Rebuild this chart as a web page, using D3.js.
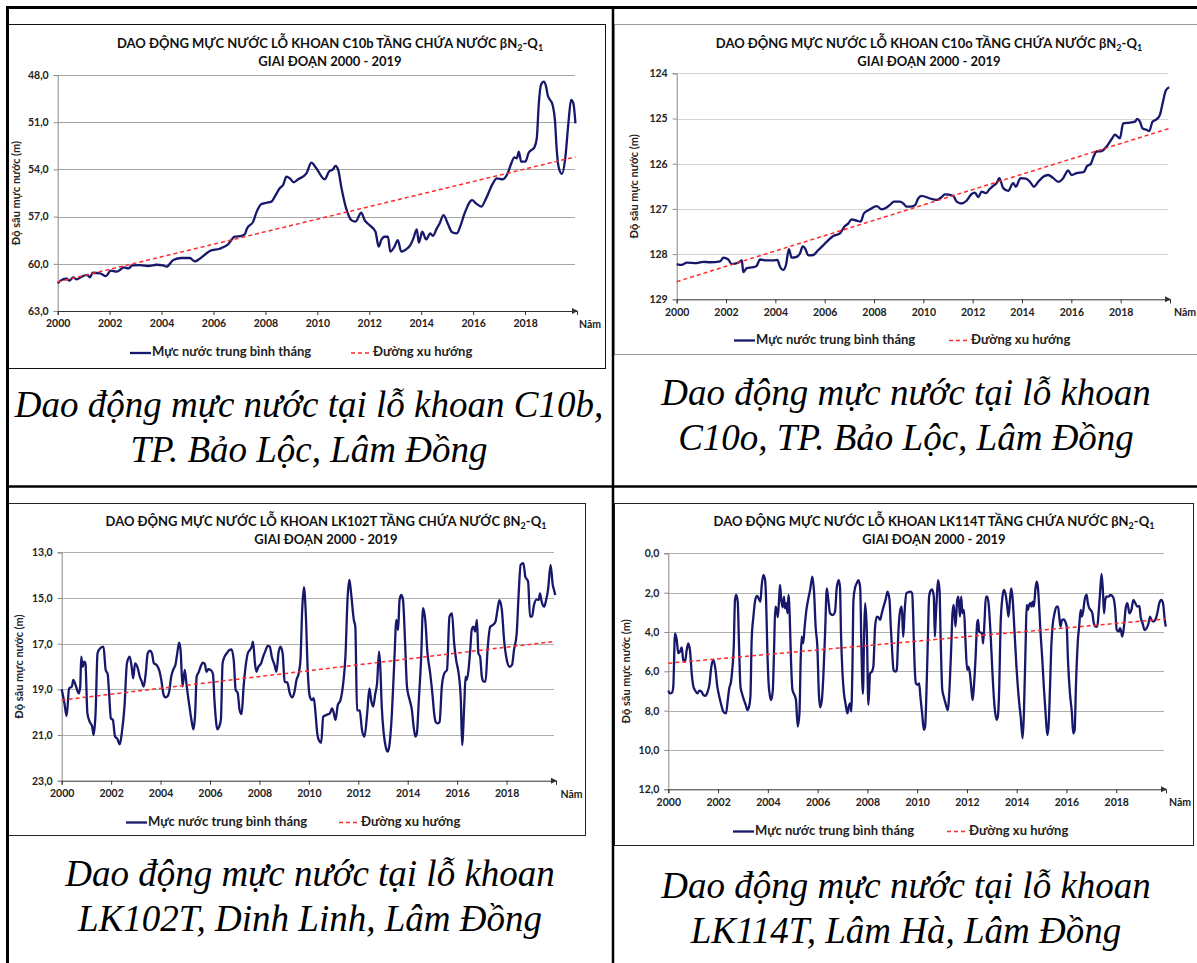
<!DOCTYPE html>
<html>
<head>
<meta charset="utf-8">
<script src="https://cdn.jsdelivr.net/npm/d3@7"></script>
<style>
  body { margin: 0; background: #fff; }
  svg { display: block; }
  .cap { font-family: 'Liberation Serif', 'Times New Roman', serif; font-style: italic; }
</style>
</head>
<body>
<svg width="1197" height="963"></svg>
<script>
// year ticks shared by all 4 charts
var yearTicks = [2000, 2002, 2004, 2006, 2008, 2010, 2012, 2014, 2016, 2018];

// C10b - [year, depth m]
var c10bTicks = [48, 51, 54, 57, 60, 63];
var c10bSeries = [
  [2000.00,61.24],[2000.15,61.03],[2000.35,60.95],[2000.45,61.07],[2000.60,60.86],[2000.73,60.99],
  [2000.92,60.82],[2001.14,60.71],[2001.24,60.86],[2001.35,60.57],[2001.63,60.61],[2001.86,60.78],
  [2002.04,60.44],[2002.27,60.50],[2002.55,60.23],[2002.72,60.29],[2002.88,60.10],[2003.17,60.08],
  [2003.49,60.14],[2003.81,60.06],[2004.06,60.10],[2004.19,60.18],[2004.45,59.76],[2004.77,59.63],
  [2005.09,59.63],[2005.28,59.85],[2005.47,59.68],[2005.86,59.19],[2006.24,59.04],[2006.56,58.76],
  [2006.82,58.28],[2007.08,58.23],[2007.21,58.11],[2007.29,57.75],[2007.53,57.32],[2007.65,56.75],
  [2007.85,56.20],[2008.04,56.12],[2008.23,56.05],[2008.36,55.73],[2008.55,55.20],[2008.68,54.99],
  [2008.81,54.46],[2008.94,54.57],[2009.09,54.82],[2009.26,54.63],[2009.58,54.25],[2009.77,53.57],
  [2009.96,53.93],[2010.28,54.63],[2010.45,54.14],[2010.60,54.00],[2010.70,53.78],[2010.81,54.08],
  [2010.92,55.10],[2011.11,56.48],[2011.31,57.22],[2011.47,57.32],[2011.69,56.75],[2011.82,57.22],
  [2012.01,57.54],[2012.24,57.96],[2012.36,58.91],[2012.46,58.49],[2012.59,58.28],[2012.72,58.28],
  [2012.81,59.23],[2012.97,58.91],[2013.10,58.49],[2013.23,59.23],[2013.42,59.08],[2013.58,58.81],
  [2013.70,58.38],[2013.83,57.81],[2013.91,58.66],[2014.04,57.96],[2014.19,58.45],[2014.35,58.07],
  [2014.45,58.23],[2014.60,57.75],[2014.70,57.47],[2014.86,56.90],[2015.03,57.47],[2015.19,58.00],
  [2015.37,58.07],[2015.50,57.64],[2015.67,56.80],[2015.96,55.95],[2016.11,56.16],[2016.31,56.37],
  [2016.50,55.84],[2016.76,54.89],[2016.91,54.57],[2017.14,54.63],[2017.33,54.25],[2017.46,53.66],
  [2017.59,53.23],[2017.68,53.30],[2017.76,52.87],[2017.85,53.51],[2018.01,53.51],[2018.14,52.94],
  [2018.36,52.60],[2018.45,52.03],[2018.53,49.80],[2018.61,48.64],[2018.72,48.42],[2018.81,48.74],
  [2018.87,49.27],[2019.06,49.91],[2019.15,50.86],[2019.22,52.77],[2019.29,53.83],[2019.42,54.29],
  [2019.54,53.40],[2019.68,50.86],[2019.77,49.59],[2019.86,49.80],[2019.94,51.07]
];
var c10bTrend = [[2000, 61.15], [2019.94, 53.2]];

// C10o
var c10oTicks = [124, 125, 126, 127, 128, 129];
var c10oSeries = [
  [2000.00,128.22],[2000.20,128.24],[2000.41,128.19],[2000.81,128.20],[2001.08,128.17],[2001.35,128.18],
  [2001.76,128.16],[2001.89,128.08],[2002.09,128.12],[2002.23,128.22],[2002.50,128.19],[2002.64,128.14],
  [2002.70,128.40],[2002.84,128.31],[2003.11,128.29],[2003.24,128.26],[2003.38,128.12],[2003.58,128.14],
  [2003.92,128.14],[2004.08,128.13],[2004.19,128.28],[2004.32,128.35],[2004.43,128.24],[2004.55,127.89],
  [2004.66,128.08],[2004.86,128.06],[2005.00,127.98],[2005.11,127.83],[2005.20,127.87],[2005.34,128.03],
  [2005.54,128.02],[2005.74,127.91],[2005.95,127.80],[2006.15,127.69],[2006.35,127.60],[2006.62,127.54],
  [2006.82,127.38],[2006.96,127.32],[2007.09,127.23],[2007.30,127.26],[2007.46,127.28],[2007.59,127.10],
  [2007.84,127.01],[2008.11,126.94],[2008.31,127.01],[2008.51,126.97],[2008.65,126.91],[2008.81,126.84],
  [2009.05,126.84],[2009.19,126.88],[2009.32,126.95],[2009.46,126.95],[2009.66,126.92],[2009.79,126.77],
  [2009.93,126.71],[2010.27,126.77],[2010.54,126.80],[2010.74,126.74],[2010.87,126.68],[2011.21,126.71],
  [2011.35,126.84],[2011.55,126.88],[2011.75,126.82],[2011.96,126.67],[2012.09,126.64],[2012.23,126.74],
  [2012.36,126.62],[2012.54,126.65],[2012.67,126.57],[2012.83,126.49],[2012.97,126.43],[2013.08,126.32],
  [2013.24,126.54],[2013.44,126.60],[2013.64,126.43],[2013.75,126.51],[2013.94,126.32],[2014.16,126.33],
  [2014.35,126.42],[2014.48,126.51],[2014.66,126.40],[2014.86,126.29],[2015.06,126.25],[2015.27,126.32],
  [2015.47,126.40],[2015.67,126.32],[2015.87,126.15],[2016.01,126.25],[2016.21,126.21],[2016.51,126.18],
  [2016.64,126.05],[2016.78,126.01],[2016.89,125.86],[2017.02,125.73],[2017.23,125.72],[2017.43,125.62],
  [2017.63,125.46],[2017.77,125.36],[2017.97,125.44],[2018.10,125.11],[2018.37,125.09],[2018.58,125.07],
  [2018.67,125.01],[2018.78,125.07],[2018.89,125.22],[2019.05,125.25],[2019.16,125.28],[2019.29,125.07],
  [2019.45,125.02],[2019.59,124.92],[2019.73,124.59],[2019.83,124.38],[2019.97,124.31]
];
var c10oTrend = [[2000, 128.61], [2019.97, 125.22]];

// LK102T
var lk102Ticks = [13, 15, 17, 19, 21, 23];
var lk102Series = [
  [2000.00,19.00],[2000.11,19.61],[2000.20,20.17],[2000.30,18.96],[2000.41,18.88],[2000.47,18.59],
  [2000.57,18.84],[2000.69,19.18],[2000.75,18.88],[2000.79,17.57],[2000.85,18.01],[2000.91,17.79],
  [2000.96,17.86],[2001.04,20.05],[2001.15,20.46],[2001.23,20.61],[2001.29,21.00],[2001.37,20.05],
  [2001.45,17.42],[2001.56,17.20],[2001.69,17.13],[2001.78,18.15],[2001.86,18.33],[2001.91,19.03],
  [2001.99,20.27],[2002.07,20.34],[2002.16,21.07],[2002.24,21.15],[2002.35,21.41],[2002.43,20.93],
  [2002.54,19.76],[2002.64,17.86],[2002.75,17.57],[2002.83,18.01],[2002.89,18.52],[2002.97,17.86],
  [2003.08,18.08],[2003.16,18.45],[2003.24,18.66],[2003.32,18.88],[2003.40,18.30],[2003.48,17.42],
  [2003.57,17.31],[2003.65,17.42],[2003.73,17.86],[2003.84,17.93],[2003.95,18.18],[2004.03,18.59],
  [2004.11,19.18],[2004.19,19.35],[2004.27,19.32],[2004.35,19.10],[2004.43,18.45],[2004.52,18.12],
  [2004.60,17.93],[2004.68,17.39],[2004.75,16.96],[2004.81,17.28],[2004.89,18.88],[2004.98,18.15],
  [2005.06,18.88],[2005.17,19.76],[2005.25,20.34],[2005.33,20.75],[2005.40,20.05],[2005.46,18.45],
  [2005.55,18.23],[2005.63,17.98],[2005.71,17.83],[2005.79,17.89],[2005.86,18.23],[2005.93,18.12],
  [2006.03,18.15],[2006.12,18.33],[2006.18,19.47],[2006.24,20.34],[2006.29,20.75],[2006.37,20.64],
  [2006.44,20.34],[2006.51,17.86],[2006.59,17.57],[2006.68,17.42],[2006.79,17.28],[2006.87,17.25],
  [2006.96,17.72],[2007.04,19.03],[2007.12,19.15],[2007.20,19.91],[2007.28,20.08],[2007.36,18.88],
  [2007.44,18.01],[2007.53,17.42],[2007.61,17.28],[2007.69,17.13],[2007.74,16.91],[2007.82,17.86],
  [2007.88,18.23],[2007.96,18.01],[2008.07,17.86],[2008.15,17.57],[2008.23,17.35],[2008.34,17.10],
  [2008.42,17.13],[2008.50,17.57],[2008.61,17.93],[2008.69,18.23],[2008.77,17.42],[2008.85,17.13],
  [2008.94,17.42],[2009.02,18.66],[2009.13,18.71],[2009.23,19.18],[2009.32,19.35],[2009.42,19.10],
  [2009.50,18.59],[2009.59,18.30],[2009.66,17.72],[2009.73,15.53],[2009.80,14.53],[2009.87,15.53],
  [2009.96,18.30],[2010.04,19.32],[2010.13,19.47],[2010.20,19.39],[2010.27,20.05],[2010.34,20.93],
  [2010.40,21.22],[2010.50,21.34],[2010.58,20.20],[2010.71,20.12],[2010.85,20.05],[2010.94,19.83],
  [2011.01,20.05],[2011.08,20.34],[2011.17,19.69],[2011.28,19.47],[2011.39,18.74],[2011.48,17.57],
  [2011.57,14.94],[2011.64,14.21],[2011.71,14.80],[2011.82,15.96],[2011.88,16.26],[2011.95,19.91],
  [2012.06,19.93],[2012.15,20.78],[2012.25,21.07],[2012.36,20.05],[2012.45,18.96],[2012.52,19.47],
  [2012.60,19.76],[2012.69,19.18],[2012.76,18.74],[2012.84,17.35],[2012.89,18.01],[2012.95,19.76],
  [2013.03,20.93],[2013.11,21.51],[2013.19,21.73],[2013.27,21.36],[2013.36,20.05],[2013.46,17.72],
  [2013.54,15.96],[2013.61,16.40],[2013.67,15.09],[2013.74,14.87],[2013.81,15.09],[2013.89,16.84],
  [2013.97,18.88],[2014.08,19.47],[2014.17,19.91],[2014.24,20.64],[2014.31,21.07],[2014.37,20.93],
  [2014.45,19.47],[2014.54,17.72],[2014.62,15.45],[2014.71,15.96],[2014.80,17.42],[2014.91,18.30],
  [2015.01,19.32],[2015.07,20.05],[2015.13,20.42],[2015.21,20.49],[2015.29,20.42],[2015.38,18.88],
  [2015.48,18.30],[2015.59,18.15],[2015.69,15.82],[2015.79,15.67],[2015.88,16.99],[2015.96,17.72],
  [2016.06,18.30],[2016.15,19.47],[2016.20,21.44],[2016.29,19.61],[2016.34,18.45],[2016.39,18.59],
  [2016.46,18.15],[2016.53,17.28],[2016.59,16.40],[2016.66,16.26],[2016.73,16.47],[2016.80,15.96],
  [2016.86,17.42],[2016.93,17.57],[2017.00,18.45],[2017.07,18.66],[2017.15,18.66],[2017.23,17.28],
  [2017.34,16.26],[2017.45,16.18],[2017.55,16.04],[2017.63,15.53],[2017.71,15.09],[2017.81,15.53],
  [2017.90,16.84],[2018.01,17.72],[2018.12,18.01],[2018.22,17.93],[2018.30,17.28],[2018.41,16.55],
  [2018.49,14.80],[2018.57,13.55],[2018.68,13.48],[2018.76,14.07],[2018.87,14.28],[2018.95,15.82],
  [2019.03,15.82],[2019.11,15.31],[2019.22,15.06],[2019.30,15.09],[2019.35,14.80],[2019.42,15.16],
  [2019.52,15.38],[2019.60,15.09],[2019.68,14.62],[2019.78,13.55],[2019.87,14.43],[2019.92,14.65],
  [2019.97,14.87]
];
var lk102Trend = [[2000, 19.47], [2019.97, 16.9]];

// LK114T
var lk114Ticks = [0, 2, 4, 6, 8, 10, 12];
var lk114Series = [
  [2000.00,6.98],[2000.07,7.12],[2000.15,7.08],[2000.20,6.78],[2000.27,4.07],[2000.34,4.41],
  [2000.40,5.08],[2000.47,5.00],[2000.54,4.78],[2000.60,5.42],[2000.67,5.51],[2000.74,4.92],
  [2000.80,4.58],[2000.87,4.92],[2000.94,6.10],[2001.01,6.78],[2001.07,6.95],[2001.17,7.12],
  [2001.25,6.98],[2001.33,7.03],[2001.41,7.20],[2001.49,7.25],[2001.57,7.08],[2001.65,6.69],
  [2001.73,5.76],[2001.81,5.42],[2001.89,5.85],[2001.97,6.78],[2002.05,7.29],[2002.13,7.71],
  [2002.21,8.05],[2002.32,8.14],[2002.39,7.46],[2002.45,6.86],[2002.52,6.53],[2002.57,5.93],
  [2002.63,4.75],[2002.68,2.37],[2002.73,2.12],[2002.79,2.46],[2002.84,4.58],[2002.90,6.78],
  [2002.96,7.12],[2003.04,7.46],[2003.11,7.71],[2003.18,7.97],[2003.24,7.83],[2003.30,7.29],
  [2003.35,4.41],[2003.42,3.22],[2003.50,2.34],[2003.57,2.17],[2003.63,2.29],[2003.70,2.46],
  [2003.75,1.69],[2003.82,1.10],[2003.89,1.36],[2003.93,2.37],[2003.98,4.92],[2004.03,6.61],
  [2004.09,7.29],[2004.14,7.46],[2004.20,6.95],[2004.25,4.92],[2004.30,2.71],[2004.36,2.88],
  [2004.40,3.25],[2004.45,2.37],[2004.49,1.61],[2004.54,2.37],[2004.60,2.75],[2004.65,2.20],
  [2004.69,2.80],[2004.75,2.54],[2004.79,3.05],[2004.83,2.12],[2004.88,3.22],[2004.93,5.42],
  [2004.99,6.95],[2005.07,7.20],[2005.13,7.46],[2005.20,8.81],[2005.27,8.14],[2005.32,5.42],
  [2005.36,4.24],[2005.42,4.58],[2005.48,3.73],[2005.55,2.88],[2005.63,2.29],[2005.70,1.86],
  [2005.79,1.19],[2005.86,2.03],[2005.92,3.73],[2005.99,4.75],[2006.05,7.12],[2006.10,7.83],
  [2006.17,7.46],[2006.23,6.27],[2006.30,4.07],[2006.37,1.78],[2006.43,2.37],[2006.50,3.05],
  [2006.61,3.14],[2006.70,2.97],[2006.77,1.73],[2006.85,1.36],[2006.90,1.73],[2006.94,4.07],
  [2007.00,6.10],[2007.06,7.12],[2007.13,7.71],[2007.20,8.14],[2007.25,7.80],[2007.31,7.63],
  [2007.35,8.05],[2007.40,5.76],[2007.44,2.37],[2007.51,1.73],[2007.57,1.53],[2007.64,1.36],
  [2007.71,1.73],[2007.76,4.75],[2007.82,7.15],[2007.87,4.07],[2007.91,2.54],[2007.98,4.07],
  [2008.04,7.71],[2008.11,6.10],[2008.18,6.02],[2008.24,5.76],[2008.31,3.73],[2008.38,3.22],
  [2008.44,3.25],[2008.51,3.39],[2008.58,3.05],[2008.65,2.71],[2008.73,2.37],[2008.81,1.95],
  [2008.89,2.37],[2008.94,3.73],[2009.00,5.08],[2009.05,5.93],[2009.13,6.02],[2009.18,5.93],
  [2009.25,3.90],[2009.32,2.88],[2009.38,2.71],[2009.44,4.24],[2009.50,2.88],[2009.57,2.03],
  [2009.73,1.95],[2009.80,2.03],[2009.84,3.22],[2009.89,5.42],[2009.95,6.61],[2010.03,6.69],
  [2010.08,6.61],[2010.13,7.29],[2010.20,8.14],[2010.27,8.98],[2010.32,8.81],[2010.38,6.78],
  [2010.43,4.41],[2010.48,2.20],[2010.54,1.90],[2010.60,1.83],[2010.67,2.20],[2010.71,4.24],
  [2010.75,3.22],[2010.80,2.03],[2010.84,1.36],[2010.90,1.86],[2010.94,4.07],[2011.01,6.95],
  [2011.07,7.29],[2011.14,7.63],[2011.23,7.97],[2011.31,6.61],[2011.37,4.75],[2011.42,3.05],
  [2011.47,2.63],[2011.54,3.73],[2011.61,2.37],[2011.66,2.20],[2011.72,3.22],[2011.77,2.20],
  [2011.82,3.05],[2011.88,2.88],[2011.94,4.41],[2012.01,5.93],[2012.06,5.76],[2012.12,6.10],
  [2012.17,6.78],[2012.23,7.46],[2012.28,6.78],[2012.35,5.25],[2012.41,3.56],[2012.45,3.39],
  [2012.49,3.98],[2012.55,4.03],[2012.61,4.07],[2012.65,4.58],[2012.71,3.39],[2012.76,2.20],
  [2012.82,2.20],[2012.87,2.54],[2012.95,4.07],[2013.02,5.93],[2013.11,7.80],[2013.19,8.47],
  [2013.24,8.31],[2013.30,6.78],[2013.35,3.73],[2013.43,2.20],[2013.49,1.86],[2013.57,2.20],
  [2013.62,2.71],[2013.67,3.22],[2013.73,2.37],[2013.78,1.78],[2013.83,2.20],[2013.91,3.90],
  [2013.99,5.76],[2014.09,7.46],[2014.16,8.31],[2014.24,9.41],[2014.29,8.14],[2014.36,4.58],
  [2014.40,2.63],[2014.45,2.88],[2014.50,2.63],[2014.56,2.54],[2014.60,2.71],[2014.64,2.46],
  [2014.69,2.71],[2014.75,1.86],[2014.80,1.44],[2014.85,1.69],[2014.91,2.88],[2014.96,4.07],
  [2015.03,5.42],[2015.09,6.78],[2015.17,8.31],[2015.23,9.24],[2015.28,8.81],[2015.34,6.78],
  [2015.39,4.75],[2015.44,3.73],[2015.52,3.05],[2015.60,2.71],[2015.66,2.71],[2015.71,3.22],
  [2015.76,3.73],[2015.82,3.39],[2015.90,3.36],[2015.95,3.47],[2016.01,3.73],[2016.06,5.42],
  [2016.14,7.12],[2016.22,8.14],[2016.27,9.15],[2016.33,8.98],[2016.38,6.78],[2016.46,4.41],
  [2016.51,3.73],[2016.57,2.88],[2016.62,3.22],[2016.68,2.88],[2016.73,2.37],[2016.81,2.10],
  [2016.86,2.54],[2016.92,2.80],[2016.97,2.88],[2017.04,3.05],[2017.10,3.56],[2017.17,3.73],
  [2017.24,3.73],[2017.29,3.05],[2017.35,2.03],[2017.41,1.05],[2017.47,2.03],[2017.51,3.05],
  [2017.56,2.37],[2017.61,2.20],[2017.69,2.20],[2017.77,2.12],[2017.86,2.20],[2017.91,2.37],
  [2017.96,2.88],[2018.02,3.90],[2018.10,3.98],[2018.15,3.81],[2018.20,3.98],[2018.24,4.24],
  [2018.31,3.73],[2018.39,2.71],[2018.45,2.54],[2018.53,3.05],[2018.61,2.88],[2018.69,2.37],
  [2018.77,2.54],[2018.85,2.71],[2018.93,2.68],[2018.98,3.22],[2019.06,3.56],[2019.14,3.90],
  [2019.22,3.81],[2019.30,3.56],[2019.36,3.22],[2019.41,3.39],[2019.49,3.47],[2019.57,3.39],
  [2019.65,3.05],[2019.73,2.54],[2019.81,2.37],[2019.88,2.54],[2019.95,3.39],[2019.99,3.73]
];
var lk114Trend = [[2000, 5.59], [2020, 3.34]];

var svg = d3.select('svg');
svg.append('rect').attr('width', 1197).attr('height', 963).attr('fill', '#fff');

var FONT = 'Lato, "Open Sans", sans-serif';
var navy = '#17176b';

// one chart box. cfg holds the layout, data comes from the arrays above
function drawChart(cfg) {
  var g = svg.append('g');

  g.append('rect')
    .attr('x', cfg.box[0] + 0.5).attr('y', cfg.box[1] + 0.5)
    .attr('width', cfg.box[2]).attr('height', cfg.box[3])
    .attr('fill', '#fff').attr('stroke', cfg.boxColor).attr('stroke-width', 1);

  var x = d3.scaleLinear().domain([2000, 2020]).range([cfg.x0, cfg.x1]);
  var y = d3.scaleLinear().domain([cfg.ticks[0], cfg.ticks[cfg.ticks.length - 1]]).range([cfg.y0, cfg.y1]);

  // gridlines
  g.selectAll('.grid').data(cfg.ticks.slice(0, -1)).enter().append('line')
    .attr('x1', cfg.x0).attr('x2', cfg.x1 - 2)
    .attr('y1', function(d) { return Math.round(y(d)) + 0.5; })
    .attr('y2', function(d) { return Math.round(y(d)) + 0.5; })
    .attr('stroke', cfg.gridColor).attr('stroke-width', 1.2);

  // y axis
  var yAxis = d3.axisLeft(y).tickValues(cfg.ticks).tickSize(4).tickPadding(5).tickFormat(cfg.fmt);
  var ya = g.append('g').attr('transform', 'translate(' + cfg.x0 + ',0)').call(yAxis);
  ya.select('.domain').attr('stroke', '#888');
  ya.selectAll('.tick line').attr('stroke', '#888');
  ya.selectAll('text').attr('font-family', FONT).attr('font-weight', 'bold')
    .attr('font-size', 10.5).attr('fill', '#222');

  // x axis
  var xAxis = d3.axisBottom(x).tickValues(yearTicks.concat([2020])).tickSize(4).tickPadding(5)
    .tickFormat(function(d) { return d === 2020 ? '' : d; });
  var xa = g.append('g').attr('transform', 'translate(0,' + cfg.y1 + ')').call(xAxis);
  xa.select('.domain').attr('stroke', '#333');
  xa.selectAll('.tick line').attr('stroke', '#333');
  xa.selectAll('text').attr('font-family', FONT).attr('font-weight', 'bold')
    .attr('font-size', 10.5).attr('fill', '#222');
  // arrow at the end of the time axis
  g.append('path')
    .attr('d', 'M' + (cfg.x1 - 5) + ',' + (cfg.y1 - 3) + 'L' + (cfg.x1 + 1) + ',' + cfg.y1 + 'L' + (cfg.x1 - 5) + ',' + (cfg.y1 + 3) + 'Z')
    .attr('fill', '#333');
  g.append('text').attr('x', cfg.namX).attr('y', cfg.namY)
    .attr('text-anchor', 'middle').attr('dominant-baseline', 'middle')
    .attr('font-family', FONT).attr('font-weight', 'bold').attr('font-size', 10.5)
    .attr('fill', '#222').text('Năm');

  // y axis title
  g.append('text')
    .attr('transform', 'translate(' + cfg.ytX + ',' + ((cfg.y0 + cfg.y1) / 2) + ') rotate(-90)')
    .attr('text-anchor', 'middle').attr('dominant-baseline', 'middle')
    .attr('font-family', FONT).attr('font-weight', 'bold').attr('font-size', 11)
    .attr('fill', '#222').text('Độ sâu mực nước (m)');

  // title (2 lines)
  var t1 = g.append('text').attr('x', cfg.titleX).attr('y', cfg.titleY)
    .attr('text-anchor', 'middle').attr('font-family', FONT).attr('font-weight', 'bold')
    .attr('font-size', 13).attr('fill', '#111');
  t1.append('tspan').text('DAO ĐỘNG MỰC NƯỚC LỖ KHOAN ' + cfg.name + ' TẦNG CHỨA NƯỚC βN');
  t1.append('tspan').attr('font-size', 9).attr('dy', 3).text('2');
  t1.append('tspan').attr('dy', -3).text('-Q');
  t1.append('tspan').attr('font-size', 9).attr('dy', 3).text('1');
  g.append('text').attr('x', cfg.titleX).attr('y', cfg.titleY + 18)
    .attr('text-anchor', 'middle').attr('font-family', FONT).attr('font-weight', 'bold')
    .attr('font-size', 13).attr('fill', '#111').text('GIAI ĐOẠN 2000 - 2019');

  // series
  var line = d3.line()
    .x(function(d) { return x(d[0]); })
    .y(function(d) { return y(d[1]); })
    .curve(d3.curveMonotoneX);

  g.append('path').datum(cfg.series).attr('d', line)
    .attr('fill', 'none').attr('stroke', navy).attr('stroke-width', 2.3)
    .attr('stroke-linejoin', 'round');

  g.append('path').datum(cfg.trend).attr('d', d3.line().x(function(d) { return x(d[0]); }).y(function(d) { return y(d[1]); }))
    .attr('fill', 'none').attr('stroke', '#ff2a2a').attr('stroke-width', 1.5)
    .attr('stroke-dasharray', '4,3');

  // legend
  var lg = g.append('g').attr('font-family', FONT).attr('font-weight', 'bold')
    .attr('font-size', 13).attr('fill', '#222');
  lg.append('line').attr('x1', cfg.leg1).attr('x2', cfg.leg1 + 21)
    .attr('y1', cfg.legY).attr('y2', cfg.legY).attr('stroke', navy).attr('stroke-width', 2.3);
  lg.append('text').attr('x', cfg.leg1 + 22).attr('y', cfg.legY).attr('dominant-baseline', 'middle')
    .text('Mực nước trung bình tháng');
  lg.append('line').attr('x1', cfg.leg2).attr('x2', cfg.leg2 + 21)
    .attr('y1', cfg.legY).attr('y2', cfg.legY).attr('stroke', '#ff2a2a').attr('stroke-width', 1.5)
    .attr('stroke-dasharray', '4,3');
  lg.append('text').attr('x', cfg.leg2 + 22).attr('y', cfg.legY).attr('dominant-baseline', 'middle')
    .text('Đường xu hướng');
}

var fmt1 = function(d) { return d3.format('.1f')(d).replace('.', ','); };
var fmt0 = function(d) { return String(d); };

drawChart({ name: 'C10b', series: c10bSeries, trend: c10bTrend, ticks: c10bTicks, fmt: fmt1,
  box: [7, 24, 598, 344], boxColor: '#111', gridColor: '#a6a6a6',
  x0: 57.7, x1: 577, y0: 75, y1: 311, ytX: 17, titleX: 330, titleY: 47.5,
  namX: 590, namY: 325, legY: 353, leg1: 130, leg2: 351 });

drawChart({ name: 'C10o', series: c10oSeries, trend: c10oTrend, ticks: c10oTicks, fmt: fmt0,
  box: [614, 24, 600, 330], boxColor: '#999', gridColor: '#d4d4d4',
  x0: 676.7, x1: 1170, y0: 73.3, y1: 299.3, ytX: 635, titleX: 929, titleY: 48,
  namX: 1185, namY: 313, legY: 340.5, leg1: 734, leg2: 949 });

drawChart({ name: 'LK102T', series: lk102Series, trend: lk102Trend, ticks: lk102Ticks, fmt: fmt1,
  box: [7, 503, 578, 332], boxColor: '#222', gridColor: '#b0b0b0',
  x0: 61.7, x1: 556, y0: 552.3, y1: 780.7, ytX: 20.5, titleX: 326, titleY: 526,
  namX: 571.5, namY: 795, legY: 822.5, leg1: 126, leg2: 339 });

drawChart({ name: 'LK114T', series: lk114Series, trend: lk114Trend, ticks: lk114Ticks, fmt: fmt1,
  box: [614, 503, 579, 342], boxColor: '#222', gridColor: '#b0b0b0',
  x0: 668.3, x1: 1166, y0: 553.3, y1: 789.3, ytX: 627, titleX: 934, titleY: 526,
  namX: 1180, namY: 803, legY: 831.5, leg1: 733, leg2: 947 });

// table borders
var tb = svg.append('g').attr('stroke', '#000');
tb.append('line').attr('x1', 6).attr('x2', 1197).attr('y1', 7.5).attr('y2', 7.5).attr('stroke-width', 3);
tb.append('line').attr('x1', 7.5).attr('x2', 7.5).attr('y1', 6).attr('y2', 963).attr('stroke-width', 3);
tb.append('line').attr('x1', 613).attr('x2', 613).attr('y1', 6).attr('y2', 963).attr('stroke-width', 2.5);
tb.append('line').attr('x1', 6).attr('x2', 1197).attr('y1', 486.5).attr('y2', 486.5).attr('stroke-width', 2.5);

// captions
var captions = [
  { x: 309, y: 417, lines: ['Dao động mực nước tại lỗ khoan C10b,', 'TP. Bảo Lộc, Lâm Đồng'] },
  { x: 906, y: 405, lines: ['Dao động mực nước tại lỗ khoan', 'C10o, TP. Bảo Lộc, Lâm Đồng'] },
  { x: 310, y: 886, lines: ['Dao động mực nước tại lỗ khoan', 'LK102T, Dinh Linh, Lâm Đồng'] },
  { x: 906, y: 898, lines: ['Dao động mực nước tại lỗ khoan', 'LK114T, Lâm Hà, Lâm Đồng'] }
];
captions.forEach(function(c) {
  var t = svg.append('text').attr('class', 'cap').attr('text-anchor', 'middle')
    .attr('font-size', 37).attr('fill', '#000');
  c.lines.forEach(function(l, i) {
    t.append('tspan').attr('x', c.x).attr('y', c.y + i * 45).text(l);
  });
});
</script>
</body>
</html>
